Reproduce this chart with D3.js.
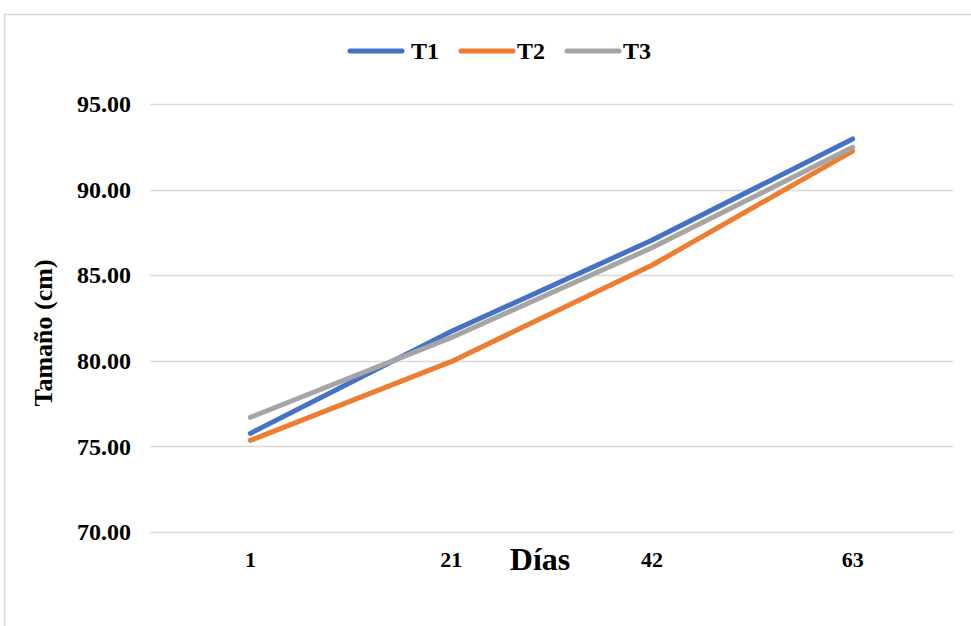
<!DOCTYPE html>
<html><head><meta charset="utf-8">
<script src="https://cdn.jsdelivr.net/npm/d3@7"></script>
<style>body{margin:0;background:#fff}svg{display:block}</style>
</head><body>
<script>
const categories = ["1", "21", "42", "63"];
const seriesNames = ["T1", "T2", "T3"];
const t1 = [75.76, 81.71, 87.04, 92.96];
const t2 = [75.35, 79.95, 85.58, 92.25];
const t3 = [76.70, 81.35, 86.60, 92.47];
const yTicks = [70, 75, 80, 85, 90, 95];
const colors = ["#4472C4", "#ED7D31", "#A5A5A5"];

const W = 971, H = 626;
const svg = d3.select("body").append("svg").attr("width", W).attr("height", H);
const font = "'Liberation Serif','Times New Roman',serif";

svg.append("rect").attr("x", 4.5).attr("y", 14.5).attr("width", 1000).attr("height", 700)
  .attr("fill", "#fff").attr("stroke", "#D9D9D9").attr("stroke-width", 1.5);

const x = d3.scaleBand().domain(categories).range([150, 953]);
const y = d3.scaleLinear().domain([70, 95]).range([532, 104]);

const grid = svg.append("g");
grid.selectAll("line").data(yTicks).join("line")
  .attr("x1", 150).attr("x2", 953)
  .attr("y1", d => Math.round(y(d)) + 0.5).attr("y2", d => Math.round(y(d)) + 0.5)
  .attr("stroke", "#D9D9D9").attr("stroke-width", 1.5);

const yAxis = svg.append("g").attr("transform", "translate(150,0)")
  .call(d3.axisLeft(y).tickValues(yTicks).tickFormat(d3.format(".2f")).tickSize(0).tickPadding(19));
yAxis.select(".domain").remove();
yAxis.selectAll("text").attr("font-family", font).attr("font-weight", "bold")
  .attr("font-size", 24).attr("fill", "#000");

const xAxis = svg.append("g").attr("transform", "translate(0,532)")
  .call(d3.axisBottom(x).tickSize(0).tickPadding(19));
xAxis.select(".domain").remove();
xAxis.selectAll("text").attr("font-family", font).attr("font-weight", "bold")
  .attr("font-size", 22).attr("fill", "#000");

svg.append("text").attr("x", 540).attr("y", 570).attr("text-anchor", "middle")
  .attr("font-family", font).attr("font-weight", "bold").attr("font-size", 32)
  .text("Días");

svg.append("text").attr("transform", "translate(52,333) rotate(-90)").attr("text-anchor", "middle")
  .attr("font-family", font).attr("font-weight", "bold").attr("font-size", 26)
  .text("Tamaño (cm)");

const data = [t1, t2, t3];
const line = d3.line().x((d, i) => x(categories[i]) + x.bandwidth() / 2).y(d => y(d));
svg.append("g").selectAll("path").data(data).join("path")
  .attr("d", d => line(d)).attr("fill", "none")
  .attr("stroke", (d, i) => colors[i]).attr("stroke-width", 5)
  .attr("stroke-linecap", "round").attr("stroke-linejoin", "round");

const legX = [350, 461, 567];
const leg = svg.append("g");
seriesNames.forEach((n, i) => {
  leg.append("line").attr("x1", legX[i]).attr("x2", legX[i] + 52).attr("y1", 51).attr("y2", 51)
    .attr("stroke", colors[i]).attr("stroke-width", 5).attr("stroke-linecap", "round");
  leg.append("text").attr("x", legX[i] + 61 - (i > 0 ? 5 : 0)).attr("y", 59)
    .attr("font-family", font).attr("font-weight", "bold").attr("font-size", 24).text(n);
});
</script>
</body></html>
